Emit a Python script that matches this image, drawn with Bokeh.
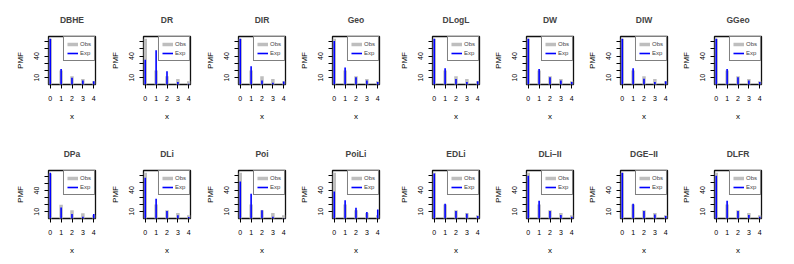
from bokeh.plotting import figure
from bokeh.models import Range1d, FixedTicker, Legend, LegendItem, ColumnDataSource
from bokeh.layouts import column, row
from bokeh.embed import file_html
from bokeh.resources import INLINE

# ---------------- data ----------------
x_vals = [0, 1, 2, 3, 4]
obs = [64, 20, 12, 8, 5]

names = ["DBHE", "DR", "DIR", "Geo", "DLogL", "DW", "DIW", "GGeo",
         "DPa", "DLi", "Poi", "PoiLi", "EDLi", "DLi–II", "DGE–II", "DLFR"]

exp_dbhe = [64, 22, 10, 6, 5]
exp_dr = [35, 48, 19, 4, 1.5]
exp_dir = [64, 26, 6, 3, 4.5]
exp_geo = [61, 24, 10.5, 6, 4]
exp_dlogl = [64, 23, 8, 4, 5]
exp_dw = [64, 22, 10.5, 6, 4]
exp_diw = [64, 23, 8.5, 4, 5]
exp_ggeo = [64, 22, 10.5, 6, 4]
exp_dpa = [65, 16, 7, 3, 7]
exp_dli = [57, 28, 11, 5, 2.5]
exp_poi = [52, 35, 12, 3, 1]
exp_poili = [38, 26, 15.5, 9.5, 13]
exp_edli = [63, 21, 11, 7, 4]
exp_dli2 = [60, 25, 11, 5.5, 3]
exp_dge2 = [64, 21, 11, 6, 4]
exp_dlfr = [60, 25, 11, 5.5, 3]

exps = [exp_dbhe, exp_dr, exp_dir, exp_geo, exp_dlogl, exp_dw, exp_diw, exp_ggeo,
        exp_dpa, exp_dli, exp_poi, exp_poili, exp_edli, exp_dli2, exp_dge2, exp_dlfr]

y_ticks = [10, 20, 30, 40, 50, 60]
y_tick_labels = {10: "10", 20: "", 30: "", 40: "40", 50: "", 60: ""}

# ---------------- layout ----------------
FONT = "Liberation Sans"
frame_w, frame_h = 47, 48
lefts = [48, 36, 36, 36, 36, 36, 36, 36]
rights = [12, 12, 11, 17, 11, 11, 11, 30]
tops = [36, 36]
bottoms = [50, 44]


def panel(name, e, col, rw):
    ymax = max(max(obs), max(e))
    W = lefts[col] + frame_w + rights[col]
    H = tops[rw] + frame_h + bottoms[rw]
    p = figure(width=W, height=H, output_backend="svg", toolbar_location=None,
               x_range=Range1d(-0.16, 4.16), y_range=Range1d(0.5, ymax * 1.05),
               min_border_left=lefts[col], min_border_right=rights[col],
               min_border_top=tops[rw], min_border_bottom=bottoms[rw],
               title=name)
    p.title.align = "center"
    p.title.text_font = FONT
    p.title.text_font_size = "8.5px"
    p.title.text_font_style = "bold"
    p.title.standoff = 23
    p.xgrid.visible = False
    p.ygrid.visible = False
    p.outline_line_color = "#111111"
    p.outline_line_width = 1.3
    p.background_fill_color = "white"
    p.border_fill_color = "white"

    src = ColumnDataSource(dict(x=x_vals, base=[0] * len(x_vals), obs=obs, exp=e))
    r_obs = p.segment(x0="x", y0="base", x1="x", y1="obs", source=src,
                      line_color="#BEBEBE", line_width=3.5)
    r_exp = p.segment(x0="x", y0="base", x1="x", y1="exp", source=src,
                      line_color="#0000FF", line_width=1.6)

    for ax in (p.xaxis[0], p.yaxis[0]):
        ax.axis_line_color = None
        ax.major_tick_out = 4
        ax.major_tick_in = 0
        ax.major_tick_line_color = "black"
        ax.minor_tick_line_color = None
        ax.major_label_text_font = FONT
        ax.major_label_text_font_size = "7px"
        ax.major_label_text_color = "black"
        ax.axis_label_text_font = FONT
        ax.axis_label_text_font_size = "8px"
        ax.axis_label_text_font_style = "normal"
        ax.axis_label_text_color = "black"

    p.xaxis.ticker = FixedTicker(ticks=x_vals)
    p.xaxis.axis_label = "x"
    p.xaxis.major_label_standoff = 7
    p.xaxis.axis_label_standoff = 8

    p.yaxis.ticker = FixedTicker(ticks=y_ticks)
    p.yaxis.major_label_overrides = y_tick_labels
    p.yaxis.major_label_orientation = "vertical"
    p.yaxis.axis_label = "PMF"
    p.yaxis.major_label_standoff = 5
    p.yaxis.axis_label_standoff = 7

    legend = Legend(items=[LegendItem(label="Obs", renderers=[r_obs]),
                           LegendItem(label="Exp", renderers=[r_exp])],
                    location="top_right", margin=0, padding=3, spacing=1,
                    label_text_font=FONT, label_text_font_size="6px",
                    glyph_width=11, glyph_height=8, label_height=8, label_width=8,
                    label_standoff=2, border_line_color="black", border_line_width=1,
                    background_fill_color="white", background_fill_alpha=1.0)
    p.add_layout(legend)
    return p


rows = []
for rw in range(2):
    figs = []
    for col in range(8):
        i = rw * 8 + col
        figs.append(panel(names[i], exps[i], col, rw))
    rows.append(row(*figs, spacing=0))

layout = column(*rows, spacing=0)

with open("out.html", "w") as f:
    f.write(file_html(layout, INLINE))
